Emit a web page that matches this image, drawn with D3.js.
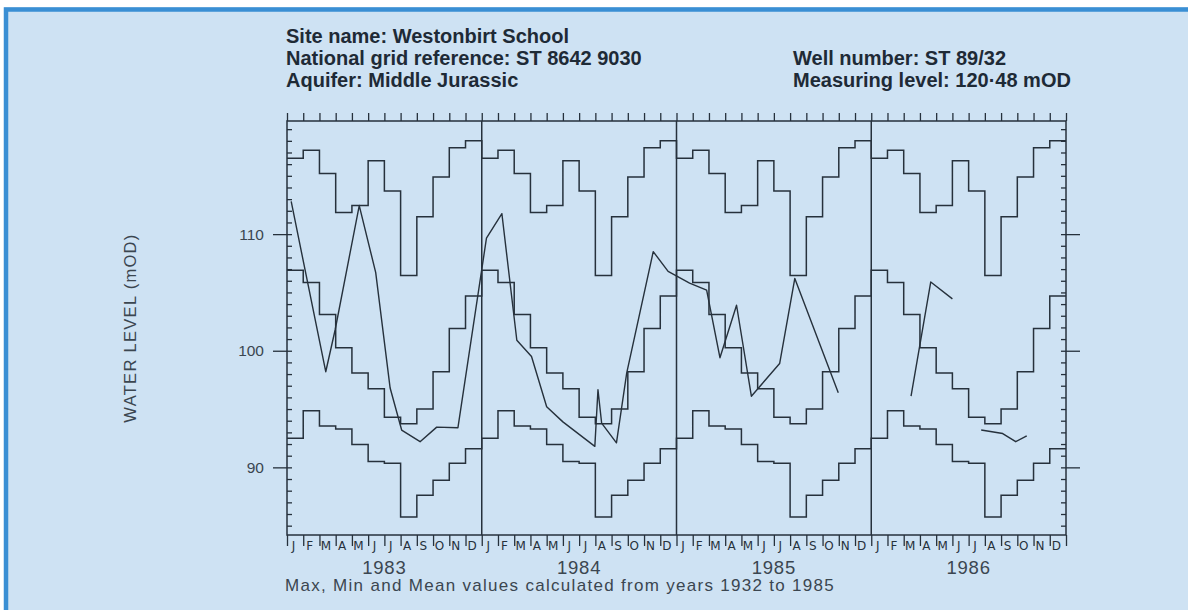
<!DOCTYPE html>
<html>
<head>
<meta charset="utf-8">
<script src="https://cdn.jsdelivr.net/npm/d3@7"></script>
<style>
  body { margin: 0; background: #ffffff; }
  svg { display: block; }
</style>
</head>
<body>
<svg id="chart" width="1188" height="610"></svg>
<script>
// Westonbirt School observation well ST 89/32 — hydrograph 1983–1986

const monthLetters = ["J", "F", "M", "A", "M", "J", "J", "A", "S", "O", "N", "D"];
const years = [1983, 1984, 1985, 1986];

// Long-term monthly statistics (1932–1985), water level in mOD
const maxLevel  = [116.5, 117.2, 115.2, 111.85, 112.45, 116.3, 113.7, 106.45, 111.5, 114.9, 117.4, 118.0];
const meanLevel = [106.9, 105.85, 103.1, 100.25, 98.1, 96.75, 94.3, 93.75, 95.0, 98.2, 101.9, 104.7];
const minLevel  = [92.5, 94.85, 93.55, 93.3, 91.95, 90.5, 90.35, 85.75, 87.6, 88.9, 90.35, 91.6];

// Observed levels; null marks a break in the record
const obsDates = [
  "1983-01-09", "1983-03-13", "1983-03-31", "1983-05-15", "1983-06-15", "1983-07-12",
  "1983-08-03", "1983-09-07", "1983-10-08", "1983-11-17",
  "1984-01-10", "1984-02-08", "1984-03-06", "1984-04-03", "1984-05-01", "1984-06-01",
  "1984-07-31", "1984-08-06", "1984-08-13", "1984-09-10", "1984-09-29", "1984-11-18", "1984-12-16",
  "1985-01-26", "1985-02-25", "1985-03-22", "1985-04-22", "1985-05-20", "1985-07-12",
  "1985-08-10", "1985-10-31",
  "1986-01-01",
  "1986-03-15", "1986-04-21", "1986-06-01",
  "1986-07-01",
  "1986-07-25", "1986-09-04", "1986-09-28", "1986-10-19"
];
const obsLevels = [
  112.8, 98.2, 101.8, 112.45, 106.7, 96.8,
  93.2, 92.2, 93.45, 93.4,
  109.65, 111.75, 100.9, 99.5, 95.2, 93.9,
  91.8, 96.65, 93.8, 92.1, 98.1, 108.5, 106.8,
  105.8, 105.2, 99.4, 103.9, 96.1, 98.9,
  106.2, 96.4,
  null,
  96.1, 105.9, 104.45,
  null,
  93.2, 92.9, 92.2, 92.7
];

const majorTicks = [90, 100, 110];
const headerLeft = [
  "Site name: Westonbirt School",
  "National grid reference: ST 8642 9030",
  "Aquifer: Middle Jurassic"
];
const headerRight = [
  "Well number: ST 89/32",
  "Measuring level: 120\u00B748 mOD"
];
const footnote = "Max, Min and Mean values calculated from years 1932 to 1985";
const yAxisTitle = "WATER LEVEL (mOD)";

// ---- layout ----
const W = 1188, H = 610;
const plot = { left: 287, right: 1066, top: 121, bottom: 535 };
const ink = "#26313c";
const textGrey = "#3b4650";
const sans = "Liberation Sans, Arial, sans-serif";

const svg = d3.select("#chart");

// panel background with blue edge
svg.append("rect").attr("x", 4).attr("y", 7).attr("width", W - 4).attr("height", H - 7)
  .attr("fill", "#cee2f3");
svg.append("path")
  .attr("d", `M6,${H} V9.5 H${W}`)
  .attr("fill", "none").attr("stroke", "#3a8fd4").attr("stroke-width", 4.5);

const x = d3.scaleLinear().domain([0, years.length * 12]).range([plot.left, plot.right]);
const y = d3.scaleLinear().domain([84.2, 119.7]).range([plot.bottom, plot.top]);

// decimal month index counted from January of the first year
function monthIndex(str) {
  const [yy, mm, dd] = str.split("-").map(Number);
  const days = new Date(yy, mm, 0).getDate();
  return (yy - years[0]) * 12 + (mm - 1) + (dd - 1) / days;
}

// ---- axes ----
const nMonths = years.length * 12;
const g = svg.append("g");

// month ticks along the top
g.append("g").attr("transform", `translate(0,${plot.top})`)
  .call(d3.axisTop(x).tickValues(d3.range(0, nMonths + 1)).tickSize(8).tickFormat(""))
  .call(a => a.select(".domain").remove());

// month ticks along the bottom
g.append("g").attr("transform", `translate(0,${plot.bottom})`)
  .call(d3.axisBottom(x).tickValues(d3.range(0, nMonths + 1)).tickSize(11).tickFormat(""))
  .call(a => a.select(".domain").remove());

// minor level ticks, inward on both sides
const minorVals = d3.range(85, 120);
g.append("g").attr("transform", `translate(${plot.left},0)`)
  .call(d3.axisLeft(y).tickValues(minorVals).tickSize(-5).tickFormat(""))
  .call(a => a.select(".domain").remove());
g.append("g").attr("transform", `translate(${plot.right},0)`)
  .call(d3.axisRight(y).tickValues(minorVals).tickSize(-5).tickFormat(""))
  .call(a => a.select(".domain").remove());

// major level ticks, outward, labelled on the left
const leftMajor = g.append("g").attr("transform", `translate(${plot.left},0)`)
  .call(d3.axisLeft(y).tickValues(majorTicks).tickSize(14).tickPadding(9).tickFormat(d3.format("d")))
  .call(a => a.select(".domain").remove());
leftMajor.selectAll("text")
  .attr("font-family", sans)
  .attr("font-size", 15.5).attr("fill", textGrey);
g.append("g").attr("transform", `translate(${plot.right},0)`)
  .call(d3.axisRight(y).tickValues(majorTicks).tickSize(14).tickFormat(""))
  .call(a => a.select(".domain").remove());

g.selectAll(".tick line").attr("stroke", ink).attr("stroke-width", 1.3);

// plot frame and year dividers
svg.append("rect")
  .attr("x", plot.left).attr("y", plot.top)
  .attr("width", plot.right - plot.left).attr("height", plot.bottom - plot.top)
  .attr("fill", "none").attr("stroke", ink).attr("stroke-width", 1.5);
svg.append("g").selectAll("line").data(d3.range(1, years.length)).join("line")
  .attr("x1", d => x(d * 12)).attr("x2", d => x(d * 12))
  .attr("y1", plot.top).attr("y2", plot.bottom)
  .attr("stroke", ink).attr("stroke-width", 1.5);

// month initials
const monthCells = d3.range(nMonths).map(i => ({ i, letter: monthLetters[i % 12] }));
svg.append("g").selectAll("text").data(monthCells).join("text")
  .attr("x", d => x(d.i) + 6.5)
  .attr("y", plot.bottom + 15)
  .attr("text-anchor", "middle")
  .attr("font-family", "DejaVu Sans, sans-serif")
  .attr("font-size", 12)
  .attr("fill", ink)
  .text(d => d.letter);

// year labels
svg.append("g").selectAll("text").data(years).join("text")
  .attr("x", (d, i) => x(i * 12 + 6))
  .attr("y", 574)
  .attr("text-anchor", "middle")
  .attr("font-family", sans)
  .attr("font-size", 18.5)
  .attr("letter-spacing", 0.8)
  .attr("fill", textGrey)
  .text(d => d);

// footnote
svg.append("text")
  .attr("x", 285).attr("y", 591)
  .attr("font-family", sans)
  .attr("font-size", 17).attr("fill", textGrey)
  .attr("letter-spacing", 1.3)
  .text(footnote);

// y axis title
svg.append("text")
  .attr("transform", `translate(136,${328}) rotate(-90)`)
  .attr("text-anchor", "middle")
  .attr("font-family", sans)
  .attr("font-size", 16.5).attr("fill", textGrey)
  .attr("letter-spacing", 1.3)
  .text(yAxisTitle);

// header block
svg.append("g").selectAll("text").data(headerLeft).join("text")
  .attr("x", 286).attr("y", (d, i) => 43 + i * 22)
  .attr("font-family", sans).attr("font-weight", "bold")
  .attr("font-size", 20).attr("fill", "#1e2a36")
  .text(d => d);
svg.append("g").selectAll("text").data(headerRight).join("text")
  .attr("x", 793).attr("y", (d, i) => 65 + i * 22)
  .attr("font-family", sans).attr("font-weight", "bold")
  .attr("font-size", 20).attr("fill", "#1e2a36")
  .text(d => d);

// ---- long-term statistics as monthly steps ----
function stepSeries(values) {
  const pts = [];
  years.forEach((yr, yi) => values.forEach((v, m) => pts.push([yi * 12 + m, v])));
  pts.push([nMonths, values[values.length - 1]]);
  return pts;
}
const stepLine = d3.line().x(d => x(d[0])).y(d => y(d[1])).curve(d3.curveStepAfter);
svg.append("g").selectAll("path").data([maxLevel, meanLevel, minLevel].map(stepSeries)).join("path")
  .attr("d", stepLine)
  .attr("fill", "none").attr("stroke", ink).attr("stroke-width", 1.5);

// ---- observed hydrograph ----
const obs = obsDates.map((d, i) => ({ t: monthIndex(d), v: obsLevels[i] }));
const obsLine = d3.line().defined(d => d.v != null).x(d => x(d.t)).y(d => y(d.v));
svg.append("path").datum(obs)
  .attr("d", obsLine)
  .attr("fill", "none").attr("stroke", ink).attr("stroke-width", 1.4)
  .attr("stroke-linejoin", "round");
</script>
</body>
</html>
